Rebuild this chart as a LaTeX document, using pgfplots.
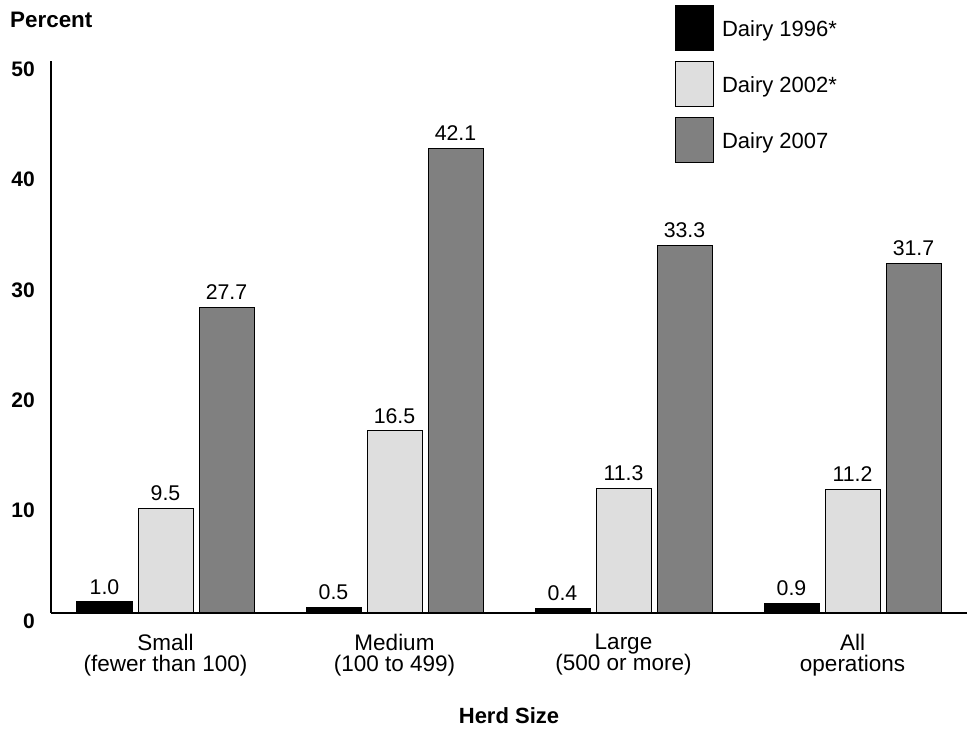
\documentclass[border=0pt]{standalone}
\usepackage{fontspec}
\setmainfont{Liberation Sans}
\usepackage{pgfplots}
\pgfplotsset{compat=1.18}
\definecolor{lg}{HTML}{DEDEDE}
\definecolor{dg}{HTML}{808080}
\pgfplotsset{
  boxlegend/.style={legend image code/.code={\draw[##1,line width=1pt] (0pt,-22pt) rectangle (38pt,23pt);}}
}
\begin{document}
\begin{tikzpicture}
\useasboundingbox (-51pt,-117pt) rectangle (920pt,613pt);
\begin{axis}[
  scale only axis,
  width=916pt, height=552pt,
  at={(0,0)}, anchor=south west,
  ybar=6pt, bar width=55pt,
  xmin=-0.5, xmax=3.5, ymin=0, ymax=50,
  xtick={0,1,2,3},
  xticklabels={{Small\\(fewer than 100)},{Medium\\(100 to 499)},{Large\\(500 or more)},{All\\operations}},
  ytick={0,10,20,30,40,50},
  axis lines*=left,
  axis line style={line width=1.6pt},
  major tick length=0pt,
  /pgf/number format/assume math mode=true,
  xticklabel style={font=\fontsize{22.5}{21}\selectfont, align=center, inner sep=0pt, anchor=north, yshift=-21pt},
  yticklabel style={font=\fontsize{21}{24}\selectfont\bfseries, inner sep=0pt, anchor=east, xshift=-16pt, yshift=-8pt},
  every axis y label/.style={at={(rel axis cs:0,1)}, anchor=base west, xshift=-41pt, yshift=33pt, inner sep=0pt, font=\fontsize{22.4}{24}\selectfont\bfseries},
  every axis x label/.style={at={(rel axis cs:0.5,0)}, anchor=base, yshift=-110pt, inner sep=0pt, font=\fontsize{22}{24}\selectfont\bfseries},
  ylabel={Percent},
  xlabel={Herd Size},
  clip=false,
  point meta=explicit symbolic,
  nodes near coords,
  every node near coord/.append style={font=\fontsize{21.3}{24}\selectfont, anchor=south, inner sep=0pt, yshift=7pt},
  legend style={draw=none, fill=none, at={(rel axis cs:0.681,1.101)}, anchor=north west, font=\fontsize{22}{24}\selectfont, row sep=10pt, column sep=6pt, inner sep=0pt},
  legend cell align=left,
]
\addplot[boxlegend, fill=black, draw=black, line width=1pt] coordinates {(0,1.0) [1.0] (1,0.5) [0.5] (2,0.4) [0.4] (3,0.9) [0.9]};
\addplot[boxlegend, fill=lg, draw=black, line width=1pt] coordinates {(0,9.5) [9.5] (1,16.5) [16.5] (2,11.3) [11.3] (3,11.2) [11.2]};
\addplot[boxlegend, fill=dg, draw=black, line width=1pt] coordinates {(0,27.7) [27.7] (1,42.1) [42.1] (2,33.3) [33.3] (3,31.7) [31.7]};
\legend{Dairy 1996*, Dairy 2002*, Dairy 2007}
\end{axis}
\end{tikzpicture}
\end{document}
